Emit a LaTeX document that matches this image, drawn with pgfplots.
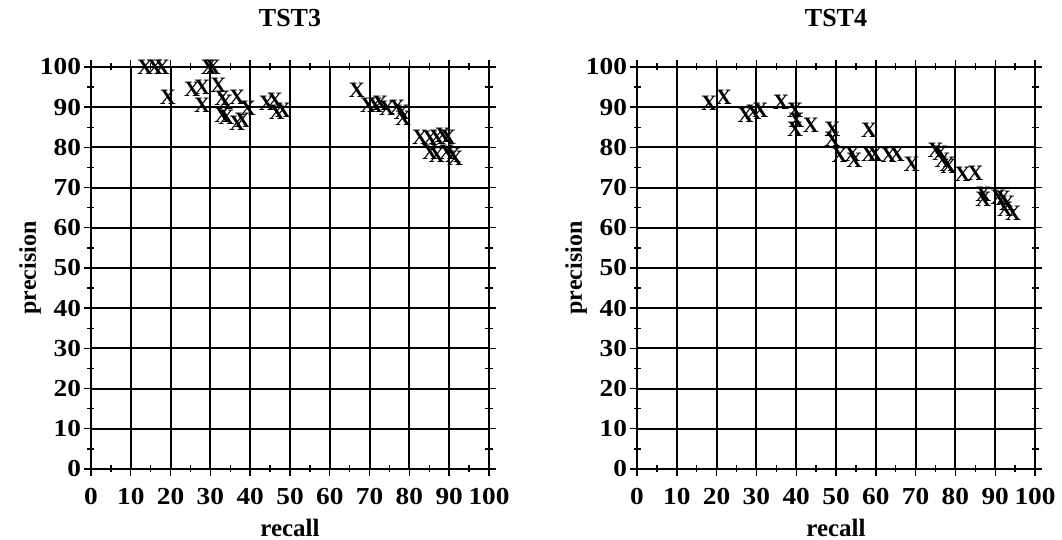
\documentclass[border=0pt]{standalone}
\usepackage{fontspec}
\setmainfont{Liberation Serif}
\newfontfamily\tickfont[FakeStretch=1.12]{Liberation Serif}
\usepackage{pgfplots}
\pgfplotsset{compat=1.18}

\pgfplotsset{
  every axis title shift=0pt,
  prplot/.style={
    scale only axis,
    width=199pt, height=201pt,
    xmin=0, xmax=100, ymin=0, ymax=100,
    xtick={0,10,...,100}, ytick={0,10,...,100},
    minor tick num=1,
    tick align=center,
    major tick length=7pt, minor tick length=3.5pt,
    grid=major,
    major grid style={black, line width=1pt},
    axis line style={line width=1pt},
    every tick/.style={black, line width=0.7pt},
    tick label style={font=\tickfont\bfseries\fontsize{12.2}{13}\selectfont},
    /pgf/number format/assume math mode=true,
    xticklabel style={yshift=-2.5pt},
    yticklabel style={xshift=2pt},
    title style={at={(axis description cs:0.5,1.122)}, anchor=center, font=\bfseries\fontsize{13}{14}\selectfont},
    xlabel style={at={(axis description cs:0.5,-0.147)}, anchor=center, font=\bfseries\fontsize{12.5}{13}\selectfont},
    ylabel style={at={(axis description cs:-0.153,0.5)}, anchor=center, font=\bfseries\fontsize{12}{13}\selectfont},
    xlabel={recall}, ylabel={precision},
  },
  xmarks/.style={only marks, mark=text,
    text mark={\bfseries\fontsize{11}{11}\selectfont X}, black},
}

\begin{document}
\begin{tikzpicture}
\path[use as bounding box] (-45.5pt,-35.5pt) rectangle (485.5pt,234.5pt);

\begin{axis}[prplot, title={TST3}, at={(0pt,0pt)}, anchor=south west]
\addplot[xmarks] coordinates {
(13.6,100)(16.1,100)(17.8,100)(19.3,92.5)
(25.4,94.5)(27.9,95)(27.9,90.5)(29.6,100)(30.6,100)(32.0,95.5)
(33.0,92.3)(33.7,91.3)(33.0,88)(34.0,87.5)(36.7,92.5)(36.7,86)(38.0,86.8)(39.4,89.8)
(44.2,91)(46.2,91.8)(46.7,88.8)(48.2,89.3)
(66.8,94.3)(69.6,90.5)(71.4,90.5)(72.6,91)(74.4,89.8)(76.9,90)(78.1,88.8)(78.4,87.3)
(82.7,82.6)(85.2,82.3)(86.9,82.6)(88.4,83.1)(89.7,82.6)
(85.2,78.9)(86.9,78.1)(89.4,78.9)(91.0,78.1)(91.5,77.4)
};
\end{axis}

\begin{axis}[prplot, title={TST4}, at={(273pt,0pt)}, anchor=south west]
\addplot[xmarks] coordinates {
(18.1,91)(21.8,92.5)(27.3,88)(29.3,88.8)(31.0,89.3)(36.2,91.3)
(39.7,89.3)(40.0,86.8)(39.7,84.5)(43.7,85.5)
(49.1,84.5)(49.1,82)(50.9,78)(54.1,78.3)(54.6,76.8)(58.3,78.3)(59.8,78.3)(58.3,84.3)
(63.3,78)(65.3,78.3)(69.0,75.8)
(75.0,79.2)(76.2,78.6)(76.8,76.8)(78.0,75.9)(78.3,75.3)
(81.8,73.2)(85.0,73.6)(87.0,68.3)(87.0,67.1)
(90.8,67.5)(92.0,67.3)(93.0,66.1)(92.5,64.6)(94.5,63.7)
};
\end{axis}
\end{tikzpicture}
\end{document}
